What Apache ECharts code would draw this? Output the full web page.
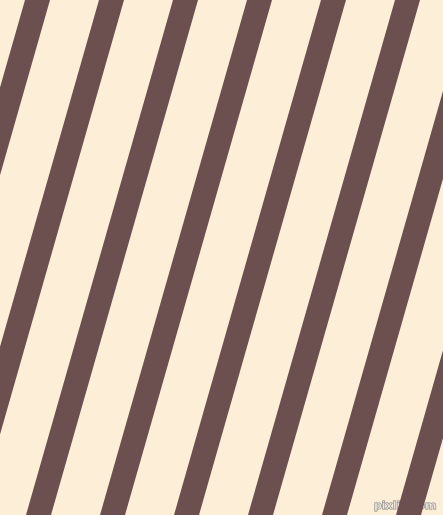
<!DOCTYPE html>
<html>
<head>
<meta charset="utf-8">
<style>
  html, body { margin: 0; padding: 0; background: #FDEFD7; }
  #main { width: 443px; height: 515px; }
</style>
<script src="https://cdn.jsdelivr.net/npm/echarts@6/dist/echarts.min.js"></script>
</head>
<body>
<div id="main"></div>
<script>
// x position of each stripe's left edge along the top edge
var stripeStarts = [-49, 25, 99, 173, 247, 321, 395, 469, 543];
// horizontal width of one stripe and how far it drifts left from top to bottom
var stripeWidth = [25];
var stripeDrift = [147];
var pageSize = [443, 515];

var myChart = echarts.init(document.getElementById('main'));

var option = {
  backgroundColor: '#FDEFD7',
  animation: false,
  grid: { left: 0, right: 0, top: 0, bottom: 0 },
  xAxis: { type: 'value', min: 0, max: pageSize[0], show: false },
  yAxis: { type: 'value', min: 0, max: pageSize[1], inverse: true, show: false },
  series: [{
    type: 'custom',
    clip: true,
    data: stripeStarts.map(function (x) { return [x]; }),
    renderItem: function (params, api) {
      var x = api.value(0);
      var w = stripeWidth[0];
      var d = stripeDrift[0];
      var h = pageSize[1];
      var pts = [
        api.coord([x, 0]),
        api.coord([x + w, 0]),
        api.coord([x + w - d, h]),
        api.coord([x - d, h])
      ];
      return {
        type: 'polygon',
        shape: { points: pts },
        style: { fill: '#6C5050' }
      };
    }
  }],
  graphic: [{
    type: 'text',
    right: 6,
    bottom: 3,
    style: {
      text: 'pixlis.com',
      font: 'bold 11px "DejaVu Sans"',
      fill: 'rgba(240,235,235,0.7)',
      stroke: 'rgba(100,100,100,0.8)',
      lineWidth: 1
    }
  }]
};

myChart.setOption(option);
</script>
</body>
</html>
